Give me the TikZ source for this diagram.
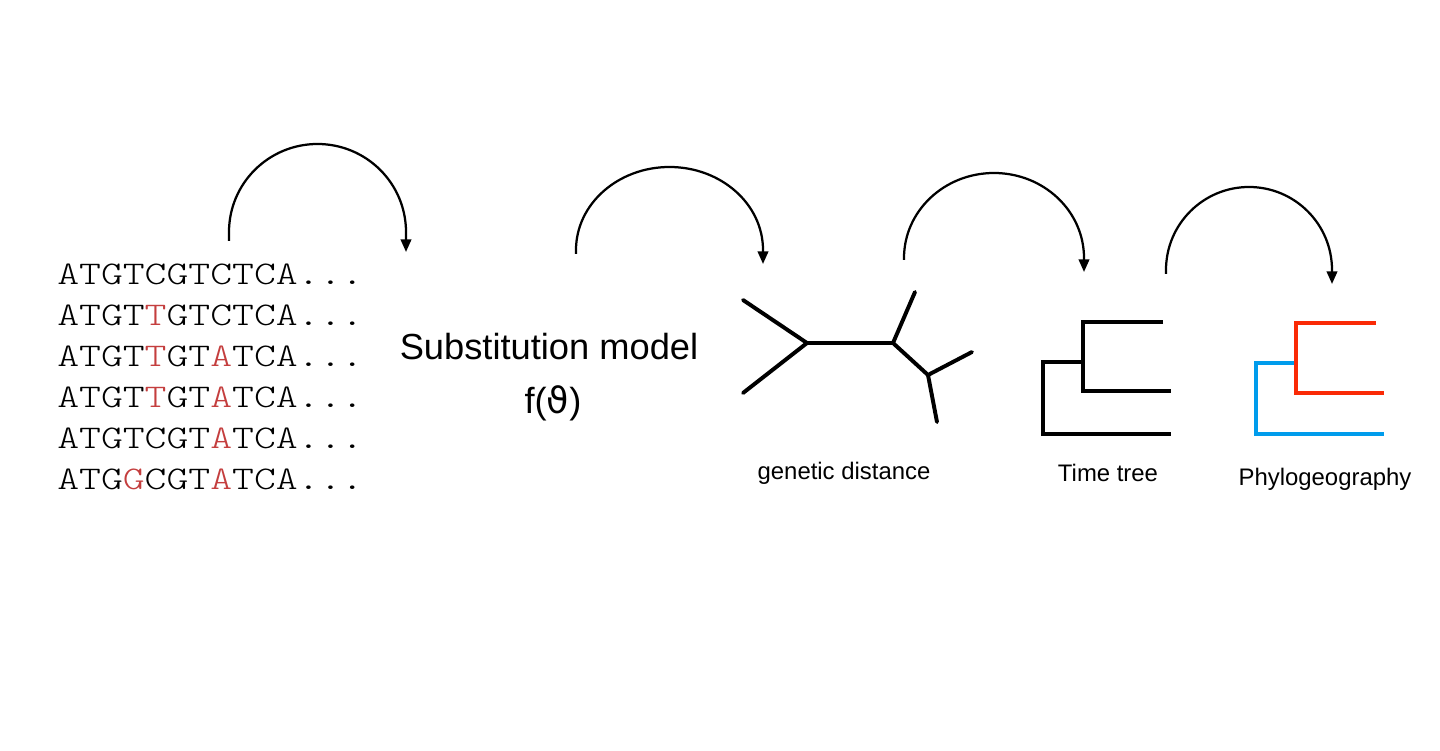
\documentclass[tikz,border=0pt]{standalone}
\usepackage{tikz}
\usetikzlibrary{arrows.meta}
\usepackage{xcolor}
\usepackage{fontspec}
\setmainfont{Liberation Sans}
\newfontfamily\seqfont{Latin Modern Mono Light}[FakeStretch=1.26]
\newfontfamily\greekfont{DejaVu Sans}
\definecolor{mutred}{RGB}{196,62,62}
\definecolor{geored}{RGB}{250,42,6}
\definecolor{geoblue}{RGB}{0,156,236}
\newcommand{\mut}[1]{\textcolor{mutred}{#1}}

\begin{document}
\begin{tikzpicture}[x=0.025cm, y=0.025cm,
      seq/.style={anchor=base west, inner sep=0pt, font=\seqfont\fontsize{23.5}{30}\selectfont},
      treelabel/.style={anchor=base, inner sep=0pt, font=\fontsize{17}{20}\selectfont},
      big/.style={anchor=base, inner sep=0pt, font=\fontsize{25.8}{30}\selectfont},
      flow/.style={line width=1.6pt, -{Stealth[length=9pt, width=7.5pt, inset=0pt]}},
      branchline/.style={line width=2.8pt}]
      \useasboundingbox (0,0) rectangle (1440,750);

      % Alignment of sequences, mutations in red
      \node[seq] (seq1) at (57,465) {ATGTCGTCTCA...};
      \node[seq] (seq2) at (57,424) {ATGT\mut{T}GTCTCA...};
      \node[seq] (seq3) at (57,383) {ATGT\mut{T}GT\mut{A}TCA...};
      \node[seq] (seq4) at (57,342) {ATGT\mut{T}GT\mut{A}TCA...};
      \node[seq] (seq5) at (57,301) {ATGTCGT\mut{A}TCA...};
      \node[seq] (seq6) at (57,260) {ATG\mut{G}CGT\mut{A}TCA...};

      % Substitution model
      \node[big] (model) at (549,390) {Substitution model};
      \node[big] (func) at (553,336) {f({\greekfont ϑ})};

      % Unrooted tree (genetic distance)
      \coordinate (gl) at (807,407);
      \coordinate (gr) at (893,407);
      \coordinate (gb) at (928,375);
      \draw[branchline, line cap=round] (743,450) -- (gl) -- (743,357);
      \draw[branchline, line cap=round] (gl) -- (gr) -- (915,458);
      \draw[branchline, line cap=round] (gr) -- (gb) -- (972,398);
      \draw[branchline, line cap=round] (gb) -- (937,328);
      \node[treelabel] (dist) at (844,270) {genetic distance};

      % Time tree
      \draw[branchline] (1163,428) -- (1083,428) -- (1083,359) -- (1171,359);
      \draw[branchline] (1083,388) -- (1043,388) -- (1043,316) -- (1171,316);
      \node[treelabel] (time) at (1108,268) {Time tree};

      % Phylogeography (coloured tree)
      \draw[branchline, geoblue] (1294,387) -- (1256,387) -- (1256,316) -- (1384,316);
      \draw[branchline, geored] (1376,427) -- (1296,427) -- (1296,357) -- (1384,357);
      \node[treelabel] (geo) at (1325,264) {Phylogeography};

      % Curved arrows between the steps
      \coordinate (s1) at (229,509);
      \coordinate (e1) at (406,498);
      \coordinate (s2) at (576,496);
      \coordinate (e2) at (763,486);
      \coordinate (s3) at (904,490);
      \coordinate (e3) at (1084,478);
      \coordinate (s4) at (1166,476);
      \coordinate (e4) at (1332,466);
      \draw[flow] (s1) -- ++(0,9) arc[start angle=180, end angle=0, x radius=88.5, y radius=88] -- (e1);
      \draw[flow] (s2) -- ++(0,4) arc[start angle=180, end angle=0, x radius=93.5, y radius=83] -- (e2);
      \draw[flow] (s3) -- ++(0,2) arc[start angle=180, end angle=0, x radius=90, y radius=85] -- (e3);
      \draw[flow] (s4) -- ++(0,4) arc[start angle=180, end angle=0, x radius=83, y radius=83] -- (e4);
  \end{tikzpicture}
\end{document}
